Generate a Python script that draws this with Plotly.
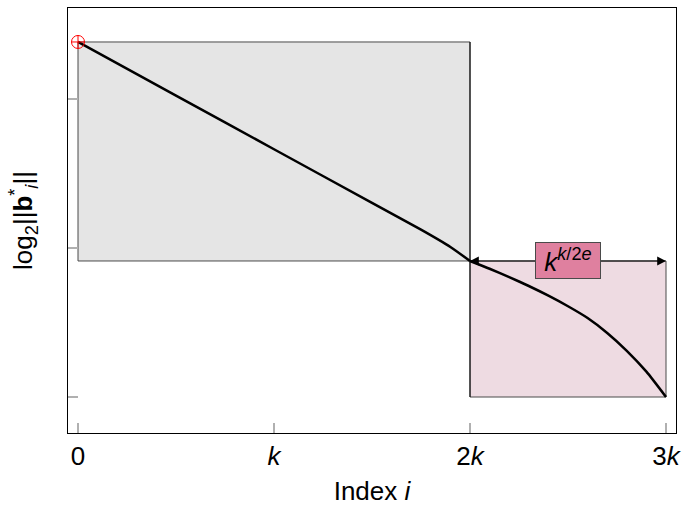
import plotly.graph_objects as go

# ---- data ----
idx_phase1 = [0.0, 0.5, 1.0, 1.5, 1.75, 1.9, 2.0]
log_phase1 = [2.383, 2.023, 1.663, 1.303, 1.123, 1.007, 0.913]
idx_phase2 = [2.0, 2.1, 2.2, 2.3, 2.4, 2.5, 2.6, 2.7, 2.8, 2.9, 3.0]
log_phase2 = [0.913, 0.861, 0.805, 0.745, 0.68, 0.609, 0.53, 0.43, 0.31, 0.17, 0.0]

box_x0 = [0, 2]
box_x1 = [2, 3]
box_y0 = [0.913, 0.0]
box_y1 = [2.383, 0.913]
box_fill = ["#e5e5e5", "#eedbe2"]

x_tickvals = [0, 1, 2, 3]
x_ticktext = ["0", "<i>k</i>", "2<i>k</i>", "3<i>k</i>"]
y_tickvals = [0, 1, 2]

start_point = (0.0, 2.383)
gap_label = " <i>k</i><sup><i>k</i>/2<i>e</i></sup> "

FONT = "Liberation Sans, Arial, Helvetica, sans-serif"
FS = 26

fig = go.Figure()

for x0, x1, y0, y1, c in zip(box_x0, box_x1, box_y0, box_y1, box_fill):
    fig.add_shape(type="rect", x0=x0, x1=x1, y0=y0, y1=y1, xref="x", yref="y",
                  fillcolor=c, line=dict(color="#4a4a4a", width=1), layer="below")

# vertical separator at 2k
fig.add_shape(type="line", x0=box_x1[0], x1=box_x1[0], y0=box_y0[1], y1=box_y1[0],
              xref="x", yref="y", line=dict(color="black", width=1), layer="below")

fig.add_trace(go.Scatter(x=idx_phase1, y=log_phase1, mode="lines",
                         line=dict(color="black", width=2.5, shape="spline", smoothing=0.6),
                         showlegend=False, hoverinfo="skip"))
fig.add_trace(go.Scatter(x=idx_phase2, y=log_phase2, mode="lines",
                         line=dict(color="black", width=2.5, shape="spline", smoothing=0.6),
                         showlegend=False, hoverinfo="skip"))
fig.add_trace(go.Scatter(x=[start_point[0]], y=[start_point[1]], mode="markers",
                         marker=dict(symbol="circle-cross-open", size=13,
                                     color="red", line=dict(color="red", width=1)),
                         showlegend=False, hoverinfo="skip"))

mid_x = (box_x0[1] + box_x1[1]) / 2
arrow_y = box_y1[1]
for tip in (box_x0[1], box_x1[1]):
    fig.add_annotation(x=tip, y=arrow_y, ax=mid_x, ay=arrow_y, axref="x", ayref="y",
                       xref="x", yref="y", text="", showarrow=True,
                       arrowhead=2, arrowsize=1.6, arrowwidth=1.1, arrowcolor="black",
                       standoff=0, startstandoff=0)
fig.add_annotation(x=mid_x, y=arrow_y, xref="x", yref="y", text=gap_label,
                   showarrow=False, font=dict(family=FONT, size=FS, color="black"),
                   bgcolor="#df809f", bordercolor="#4a4a4a", borderwidth=1, borderpad=1)

axis_common = dict(showline=True, linecolor="black", linewidth=1, mirror=True,
                   ticks="inside", ticklen=10, tickcolor="#b0b0b0", tickwidth=1.5,
                   showgrid=False, zeroline=False)

fig.update_xaxes(range=[-0.051, 3.051], tickvals=x_tickvals, ticktext=x_ticktext,
                 tickfont=dict(family=FONT, size=FS, color="black"),
                 title=dict(text="Index <i>i</i>", font=dict(family=FONT, size=FS, color="black"),
                            standoff=12),
                 **axis_common)
fig.update_yaxes(range=[-0.2416, 2.611], tickvals=y_tickvals, showticklabels=False,
                 title=dict(text="log<sub>2</sub>||<b>b</b><sup>*</sup><sub><i>i</i></sub>||",
                            font=dict(family=FONT, size=FS, color="black"), standoff=26),
                 **axis_common)

fig.update_layout(width=683, height=506, margin=dict(l=68, r=7, t=8, b=73, autoexpand=False),
                  plot_bgcolor="white", paper_bgcolor="white")

fig.write_html("out.html")
